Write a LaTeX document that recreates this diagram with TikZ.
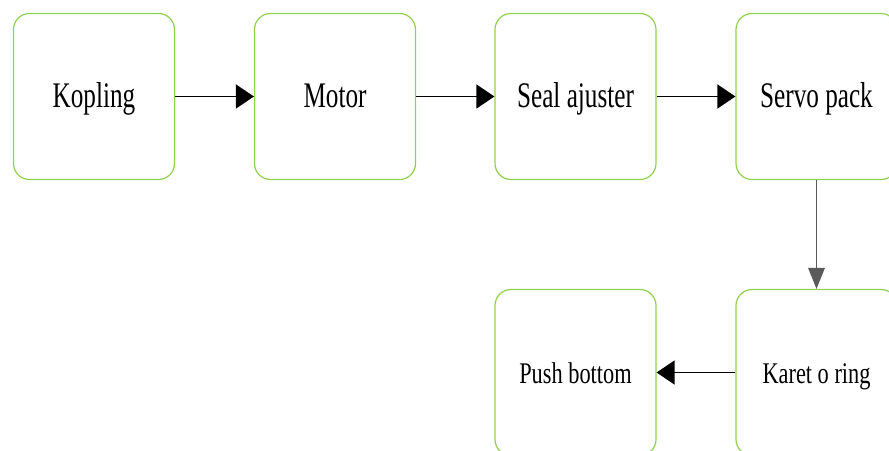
\documentclass[tikz,border=0pt]{standalone}
\usepackage{fontspec}
\setmainfont{Liberation Serif}
\usetikzlibrary{arrows.meta}
\definecolor{boxgreen}{HTML}{92D050}
\definecolor{flowgray}{HTML}{5A5A5A}
% narrow text helpers for the two rows
\newcommand{\toptext}[1]{\scalebox{0.70}[1]{\fontsize{18}{20}\selectfont #1}}
\newcommand{\lowtext}[1]{\scalebox{0.745}[1]{\fontsize{15}{17}\selectfont #1}}
\tikzset{
  stagebox/.style={draw=boxgreen, line width=0.6pt, rounded corners=8pt,
    minimum width=80.5pt, minimum height=83pt, inner sep=0pt, fill=white,
    text height=12pt, text depth=1.2pt},
  flow/.style={draw=black, line width=0.7pt,
    -{Triangle[length=9pt, width=12pt]}},
  flowdown/.style={draw=flowgray, line width=0.7pt,
    -{Triangle[length=10.5pt, width=8.3pt]}}
}
\begin{document}
\begin{tikzpicture}[x=0.5pt, y=-0.5pt]
  \useasboundingbox (0,0) rectangle (889,450);
  % top row
  \node[stagebox] (kop)   at (94,96.5)    {\toptext{Kopling}};
  \node[stagebox] (mot)   at (335,96.5)   {\toptext{Motor}};
  \node[stagebox] (seal)  at (575.5,96.5) {\toptext{Seal ajuster}};
  \node[stagebox] (servo) at (816.5,96.5) {\toptext{Servo pack}};
  % bottom row
  \node[stagebox] (push)  at (575.5,372.5) {\lowtext{Push bottom}};
  \node[stagebox] (karet) at (816.5,372.5) {\lowtext{Karet o ring}};
  % connectors
  \draw[flow] (kop.east) -- (mot.west);
  \draw[flow] (mot.east) -- (seal.west);
  \draw[flow] (seal.east) -- (servo.west);
  \draw[flowdown] (servo.south) -- (karet.north);
  \draw[flow] (karet.west) -- (push.east);
\end{tikzpicture}
\end{document}
